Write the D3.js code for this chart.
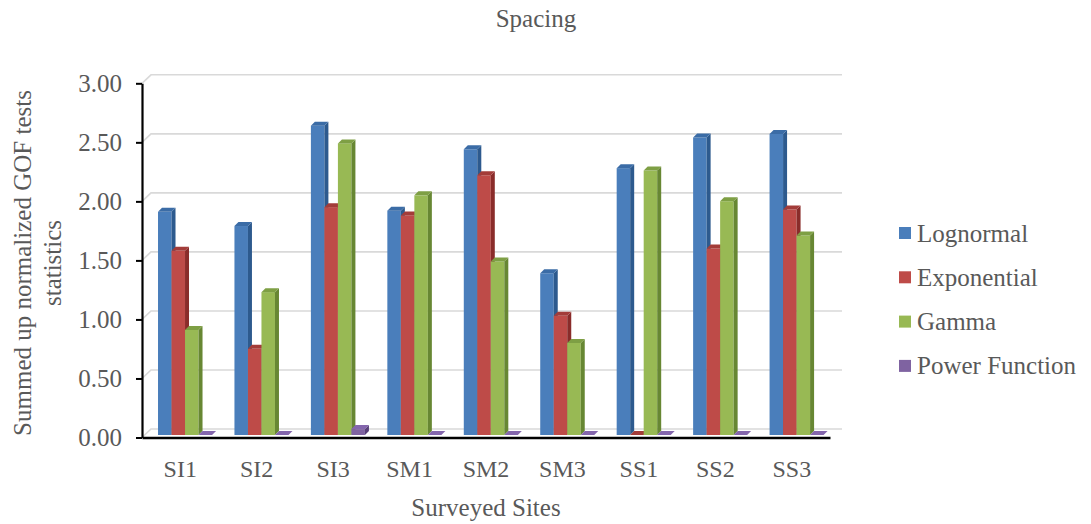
<!DOCTYPE html>
<html>
<head>
<meta charset="utf-8">
<script src="https://cdn.jsdelivr.net/npm/d3@7"></script>
<style>
  html, body { margin: 0; padding: 0; background: #ffffff; }
  svg { display: block; }
  text { font-family: "Liberation Serif", "Times New Roman", serif; fill: #595959; }
</style>
</head>
<body>
<svg id="chart" width="1091" height="524"></svg>
<script>
// Sites along the horizontal axis
const categories = ["SI1", "SI2", "SI3", "SM1", "SM2", "SM3", "SS1", "SS2", "SS3"];
// Distributions compared at each site
const seriesNames = ["Lognormal", "Exponential", "Gamma", "Power Function"];
// Summed normalized GOF statistic per distribution and site
const lognormal     = [1.89, 1.77, 2.62, 1.90, 2.42, 1.37, 2.26, 2.52, 2.55];
const exponential   = [1.56, 0.73, 1.93, 1.86, 2.20, 1.01, 0.00, 1.58, 1.91];
const gamma         = [0.89, 1.21, 2.47, 2.03, 1.47, 0.78, 2.24, 1.98, 1.69];
const powerFunction = [0.00, 0.00, 0.05, 0.00, 0.00, 0.00, 0.00, 0.00, 0.00];
// Value axis ticks
const yTicks = [0, 0.5, 1.0, 1.5, 2.0, 2.5, 3.0];

const seriesValues = [lognormal, exponential, gamma, powerFunction];
// front, side and top shading of each series' prisms
const palette = [
  { front: "#4a7ebb", side: "#2d5a8e", top: "#3b6ca6" },
  { front: "#be4b48", side: "#8a2c2a", top: "#a33c39" },
  { front: "#98b954", side: "#678733", top: "#7e9f44" },
  { front: "#7f63a1", side: "#584079", top: "#8466ad" }
];

const svg = d3.select("#chart");

const axisLeftX = 142, axisRightX = 830;
const yFront = d3.scaleLinear().domain([0, 3]).range([437.5, 83.3]);
// back wall sits up and to the right of the front plane
const wallDx = 9, wallDy = -8.5;
// bars stand slightly behind the front edge of the floor
const barDy = -2.5, barDx = 4.8;
const depthDx = 4, depthDy = -4;

const x0 = d3.scaleBand().domain(categories).range([axisLeftX, axisRightX]).padding(0);
const x1 = d3.scaleBand().domain(seriesNames).range([0, x0.bandwidth()])
  .paddingInner(0).paddingOuter(0.83);

// gridlines: short diagonal on the side wall, then across the back wall
const grid = svg.append("g");
yTicks.forEach(v => {
  const y = yFront(v);
  grid.append("path")
    .attr("d", `M${axisLeftX},${y} L${axisLeftX + wallDx},${y + wallDy} L${axisRightX + 12},${y + wallDy}`)
    .attr("fill", "none")
    .attr("stroke", "#d9d9d9")
    .attr("stroke-width", 1.6);
});

// 3D-style columns
const bars = svg.append("g");
categories.forEach((cat, ci) => {
  seriesNames.forEach((s, si) => {
    const v = seriesValues[si][ci];
    const c = palette[si];
    const x = x0(cat) + x1(s) + barDx;
    const w = x1.bandwidth();
    const base = yFront(0) + barDy;
    const top = yFront(v) + barDy;
    const g = bars.append("g");
    if (top < base) {
      g.append("rect")
        .attr("x", x).attr("y", top)
        .attr("width", w).attr("height", base - top)
        .attr("fill", c.front);
      g.append("path")
        .attr("d", `M${x + w},${top} L${x + w + depthDx},${top + depthDy} L${x + w + depthDx},${base + depthDy} L${x + w},${base} Z`)
        .attr("fill", c.side);
    }
    g.append("path")
      .attr("d", `M${x},${top} L${x + depthDx},${top + depthDy} L${x + w + depthDx},${top + depthDy} L${x + w},${top} Z`)
      .attr("fill", c.top);
  });
});

// value axis
const fmt = d3.format(".2f");
const yAxis = svg.append("g")
  .attr("transform", `translate(${axisLeftX},0)`)
  .call(d3.axisLeft(yFront).tickValues(yTicks).tickFormat(fmt).tickSize(6).tickSizeOuter(0).tickPadding(14));
yAxis.select(".domain").attr("stroke", "#000").attr("stroke-width", 2.2);
yAxis.selectAll(".tick line").attr("stroke", "#000").attr("stroke-width", 2);
yAxis.selectAll(".tick text")
  .attr("font-size", 25)
  .attr("font-family", "Liberation Serif, Times New Roman, serif")
  .attr("fill", "#595959");

// category axis
const xAxis = svg.append("g")
  .attr("transform", `translate(0,${yFront(0)})`)
  .call(d3.axisBottom(x0).tickSize(0).tickSizeOuter(0));
xAxis.select(".domain").attr("stroke", "#000").attr("stroke-width", 2.5);
xAxis.selectAll(".tick text")
  .attr("y", 0).attr("dy", 0)
  .attr("transform", "translate(0,39.5)")
  .attr("font-size", 24)
  .attr("font-family", "Liberation Serif, Times New Roman, serif")
  .attr("fill", "#595959");

// titles
svg.append("text")
  .attr("x", 536).attr("y", 27)
  .attr("text-anchor", "middle")
  .attr("font-size", 25)
  .text("Spacing");

svg.append("text")
  .attr("x", 486).attr("y", 516)
  .attr("text-anchor", "middle")
  .attr("font-size", 25)
  .text("Surveyed Sites");

const yTitle = svg.append("text")
  .attr("transform", "translate(0,263) rotate(-90)")
  .attr("text-anchor", "middle")
  .attr("font-size", 25);
yTitle.append("tspan").attr("x", 0).attr("y", 31).text("Summed up normalized GOF tests");
yTitle.append("tspan").attr("x", 0).attr("y", 61).text("statistics");

// legend
const legend = svg.append("g");
seriesNames.forEach((s, i) => {
  const cy = 233 + i * 44.3;
  legend.append("rect")
    .attr("x", 899).attr("y", cy - 6)
    .attr("width", 12).attr("height", 12)
    .attr("fill", palette[i].front);
  legend.append("text")
    .attr("x", 917).attr("y", cy + 8.5)
    .attr("font-size", 25)
    .text(s);
});
</script>
</body>
</html>
